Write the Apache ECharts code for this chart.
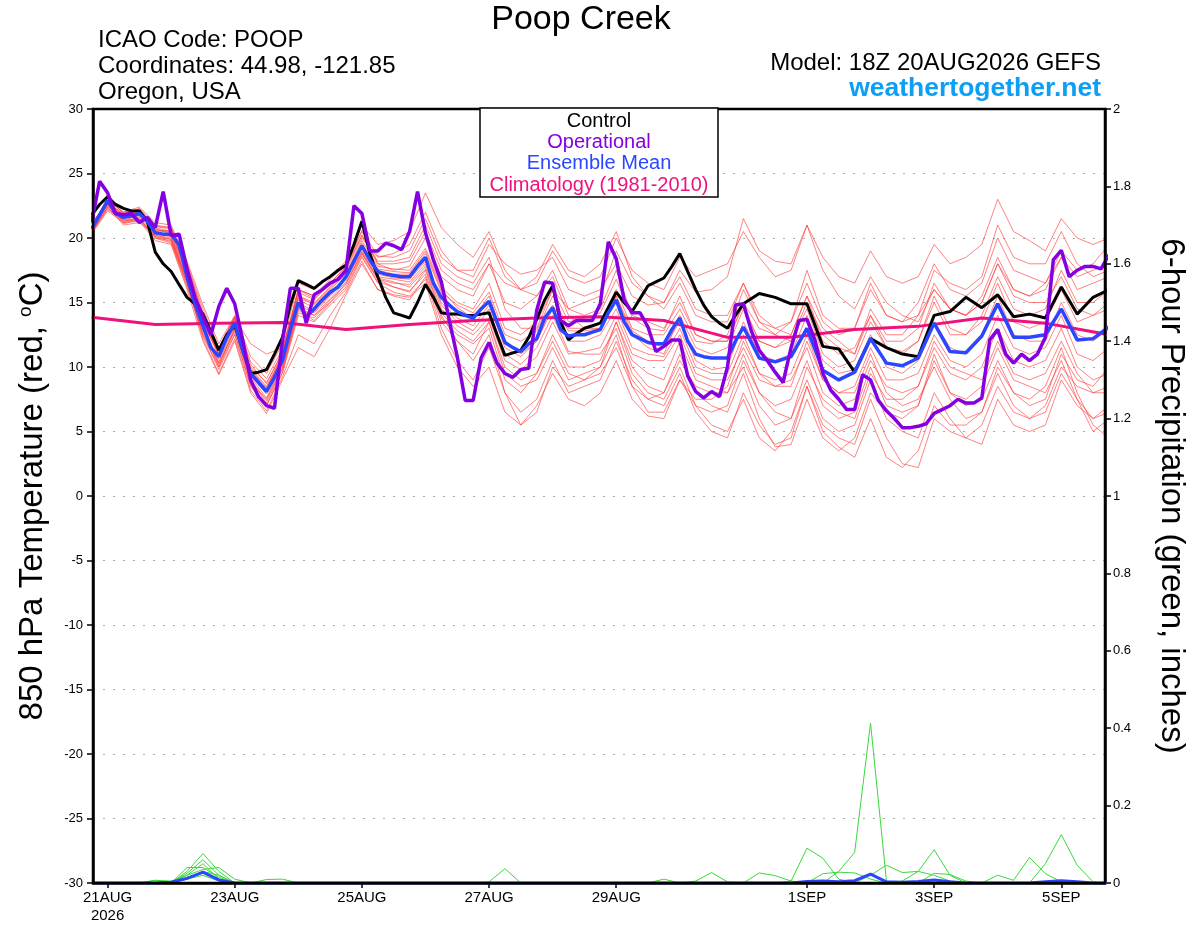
<!DOCTYPE html>
<html>
<head>
<meta charset="utf-8">
<title>Poop Creek GEFS meteogram</title>
<script src="https://cdn.jsdelivr.net/npm/echarts@6.0.0/dist/echarts.min.js"></script>
<style>
  html, body { margin: 0; padding: 0; background: #fff; }
  #chart { width: 1200px; height: 927px; }
</style>
</head>
<body>
<div id="chart"></div>
<script>
// time is in hours from 00Z 21AUG2026
function range(a, b, step) {
    var out = [];
    for (var h = a; h <= b; h += step) out.push(h);
    return out;
}
const hoursOper = range(-6, 378, 3);                       // GFS operational, 3-hourly
const hoursCtl = range(-6, 240, 3).concat(range(246, 378, 6)); // control + mean
const hoursMem = range(-6, 378, 6);                        // ensemble members
const hoursClim = range(-6, 378, 24);                      // climatology, once a day

const tickHours = [0, 48, 96, 144, 192, 264, 312, 360];
const tickLabels = ['21AUG\n2026', '23AUG', '25AUG', '27AUG', '29AUG', '1SEP', '3SEP', '5SEP'];

// 850 hPa temperature, deg C
const operational = [
    21.2, 24.4, 23.5, 21.9, 21.8, 21.9, 21.2, 21.6, 20.8, 23.6,
    20.2, 20.3, 17.6, 15.4, 13.9, 12.5, 14.7, 16.1, 14.9, 12.1,
    9.0, 7.7, 7.0, 6.8, 12.0, 16.1, 16.1, 13.4, 15.6, 16.0,
    16.5, 16.8, 17.5, 22.5, 21.9, 19.0, 19.0, 19.6, 19.4, 19.1,
    20.5, 23.6, 20.4, 18.3, 16.6, 13.6, 10.8, 7.4, 7.4, 10.7,
    11.9, 10.3, 9.5, 9.2, 9.8, 9.9, 14.4, 16.6, 16.5, 13.6,
    13.2, 13.6, 13.6, 13.6, 14.9, 19.7, 18.4, 15.2, 14.2, 14.2,
    13.1, 11.2, 11.6, 12.1, 12.1, 9.3, 8.1, 7.6, 8.1, 7.7,
    10.0, 14.8, 14.9, 12.8, 11.3, 10.5, 9.6, 8.8, 11.5, 13.6,
    13.7, 12.1, 9.5, 8.2, 7.5, 6.7, 6.7, 9.4, 9.0, 7.4,
    6.6, 6.0, 5.3, 5.3, 5.4, 5.6, 6.4, 6.7, 7.0, 7.5,
    7.2, 7.2, 7.6, 12.1, 12.9, 11.0, 10.3, 11.0, 10.5, 11.0,
    12.3, 18.3, 19.05, 17.0, 17.5, 17.8, 17.8, 17.6, 18.7
];
const control = [
    21.8, 22.6, 23.2, 22.6, 22.3, 22.1, 22.1, 21.3, 18.9, 18.0,
    17.4, 16.4, 15.4, 14.9, 14.1, 12.7, 11.3, 12.5, 13.2, 11.5,
    9.5, 9.6, 9.8, 11.0, 12.3, 14.8, 16.7, 16.4, 16.1, 16.6,
    17.0, 17.5, 17.9, 19.5, 21.3, 18.8, 17.0, 15.4, 14.2, 14.0,
    13.8, 15.0, 16.4, 15.4, 14.2, 14.1, 14.1, 14.0, 14.0, 14.1,
    14.2, 12.5, 10.9, 11.1, 11.3, 12.3, 13.7, 15.2, 16.3, 13.5,
    12.1, 12.6, 13.0, 13.2, 13.4, 14.6, 15.8, 15.0, 14.3, 15.3,
    16.3, 16.6, 16.9, 17.8, 18.8, 17.4, 16.0, 14.8, 13.9, 13.4,
    13.0, 14.0, 14.9,
    15.7, 15.4, 14.9, 14.9, 11.6, 11.4, 9.6, 12.2, 11.5, 11.0,
    10.8, 14.0, 14.3, 15.4, 14.6, 15.6, 13.9, 14.1, 13.8, 16.2,
    14.1, 15.4, 16.0
];
const ensMean = [
    20.7, 21.8, 22.9, 21.9, 21.6, 21.7, 21.9, 21.3, 20.4, 20.3,
    20.3, 19.5, 17.0, 14.9, 13.2, 11.5, 10.8, 12.3, 13.4, 11.3,
    9.5, 8.8, 8.1, 9.2, 10.5, 12.9, 15.0, 13.9, 14.5, 15.2,
    15.8, 16.2, 17.0, 18.2, 19.4, 18.3, 17.4, 17.2, 17.1, 17.0,
    17.0, 17.8, 18.5, 16.5, 15.4, 14.8, 14.3, 14.0, 13.8, 14.5,
    15.1, 13.5, 11.9, 11.5, 11.2, 11.8, 12.2, 13.8, 14.6, 12.9,
    12.4, 12.5, 12.5, 12.7, 12.9, 14.2, 15.2, 13.5, 12.5, 12.2,
    11.9, 11.8, 11.8, 12.9, 13.8, 12.0, 11.0, 10.8, 10.7, 10.7,
    10.7, 12.0, 13.1,
    10.7, 10.4, 10.8, 13.0, 9.75, 9.0, 9.6, 12.2, 10.3, 10.1,
    10.7, 13.4, 11.2, 11.1, 12.4, 14.9, 12.3, 12.3, 12.5, 14.5,
    12.1, 12.2, 13.1
];
const climatology = [13.85, 13.3, 13.4, 13.45, 12.9, 13.3, 13.6, 13.8, 13.9,
    13.6, 12.3, 12.3, 12.9, 13.15, 13.8, 13.4, 12.5];

// ensemble members, 6-hourly, four values per day (18Z, 00Z, 06Z, 12Z)
const memA = [21.0, 22.5, 21.8, 22.3, 21.0, 20.8, 18.0, 14.5, 11.5, 13.8, 11.8, 11.0,
    11.5, 15.5, 15.0, 16.2, 17.5, 20.0, 18.5, 18.8, 19.5, 22.0, 19.0, 17.5,
    17.0, 19.5, 18.0, 17.2, 17.5, 18.5, 16.0, 15.5, 16.0, 18.0, 15.5, 14.8,
    15.0, 17.5, 15.8, 16.0, 17.0, 21.5, 19.0, 18.2, 18.0, 21.0, 18.5, 17.0,
    16.5, 19.0, 17.0, 16.5, 17.0, 19.5, 18.0, 18.5, 19.5, 23.0, 20.5, 19.8,
    19.0, 21.5, 20.0, 19.5, 20.0];
const memB = [20.5, 22.8, 21.2, 21.5, 20.0, 19.8, 16.5, 12.5, 9.8, 12.5, 8.5, 7.0,
    9.5, 14.0, 13.5, 14.8, 16.0, 18.5, 16.5, 15.8, 15.5, 16.8, 13.0, 10.5,
    9.0, 11.5, 8.0, 6.5, 7.5, 10.5, 8.0, 8.5, 9.0, 12.0, 9.0, 7.5,
    7.0, 9.5, 6.5, 5.0, 4.5, 8.0, 5.5, 4.0, 4.5, 8.5, 5.5, 4.5,
    4.0, 7.5, 4.5, 2.5, 2.2, 6.0, 5.0, 4.5, 5.5, 8.5, 6.5, 6.0,
    6.5, 9.5, 7.5, 5.0, 6.0];
const memC = [20.8, 22.6, 21.5, 22.0, 20.8, 20.5, 17.8, 14.0, 11.2, 13.5, 10.0, 8.8,
    11.0, 16.0, 15.5, 16.5, 17.8, 20.5, 18.0, 18.0, 18.2, 20.5, 17.5, 16.5,
    16.0, 18.0, 15.0, 14.5, 15.5, 17.5, 14.5, 14.0, 14.5, 17.5, 14.0, 13.5,
    13.0, 15.0, 12.5, 12.0, 12.0, 15.0, 13.0, 12.5, 13.5, 17.5, 14.0, 13.0,
    13.0, 16.5, 14.0, 13.5, 14.0, 16.0, 14.5, 14.0, 15.5, 18.5, 16.0, 15.5,
    16.0, 18.5, 17.0, 17.5, 18.0];
const memD = [20.6, 22.4, 21.0, 21.2, 20.2, 20.0, 16.8, 13.0, 10.0, 13.0, 8.8, 7.5,
    10.0, 14.5, 14.0, 15.0, 16.5, 18.8, 16.8, 16.2, 15.8, 17.5, 14.0, 12.0,
    10.5, 12.5, 8.0, 5.5, 6.5, 10.0, 8.5, 9.0, 10.0, 13.5, 10.0, 8.5,
    8.0, 11.0, 8.0, 7.0, 6.5, 9.5, 6.0, 3.8, 4.0, 7.5, 4.5, 3.5,
    4.5, 8.0, 6.5, 6.0, 7.0, 10.5, 8.0, 7.5, 8.5, 11.5, 9.0, 8.5,
    8.0, 10.5, 7.5, 6.0, 7.0];
const memE = [20.9, 23.0, 22.0, 22.2, 20.6, 20.5, 17.5, 13.8, 11.0, 13.8, 9.8, 8.4,
    10.8, 15.5, 14.8, 16.0, 17.2, 19.8, 17.8, 17.6, 17.5, 19.2, 16.2, 15.0,
    14.5, 16.5, 13.0, 12.5, 13.5, 16.0, 13.5, 13.8, 14.2, 16.8, 13.8, 13.0,
    12.8, 15.5, 12.5, 12.0, 12.0, 14.8, 12.0, 11.5, 12.0, 14.5, 11.0, 10.0,
    10.5, 13.5, 11.5, 11.2, 12.0, 15.0, 12.5, 12.5, 13.5, 16.5, 13.5, 13.0,
    13.5, 16.0, 13.5, 14.0, 15.0];
const memF = [20.4, 22.2, 21.3, 21.6, 20.0, 19.6, 16.2, 12.6, 10.3, 12.8, 9.0, 7.2,
    9.8, 14.2, 13.8, 15.2, 16.4, 18.8, 16.8, 16.5, 16.4, 17.8, 14.5, 13.2,
    12.5, 13.8, 10.5, 9.8, 10.8, 13.5, 11.0, 11.2, 11.5, 14.0, 11.0, 10.5,
    10.5, 12.5, 9.5, 9.0, 9.0, 11.5, 9.0, 8.5, 9.0, 11.5, 8.0, 7.0,
    7.5, 10.5, 8.5, 8.0, 8.5, 11.5, 9.5, 9.0, 10.0, 13.0, 10.5, 10.0,
    10.5, 13.0, 10.0, 9.0, 9.5];
const memG = [21.2, 22.7, 21.6, 21.8, 20.5, 20.6, 17.2, 13.5, 11.0, 13.2, 9.6, 8.2,
    11.0, 15.8, 15.2, 16.5, 17.8, 20.2, 18.0, 17.5, 17.8, 20.0, 17.0, 16.0,
    15.5, 18.0, 16.5, 16.0, 16.5, 19.0, 17.0, 16.5, 17.0, 20.0, 17.5, 16.5,
    16.0, 18.5, 17.0, 17.5, 18.0, 20.5, 18.5, 17.0, 17.5, 21.0, 17.5, 15.5,
    14.5, 17.0, 15.0, 14.0, 13.5, 16.0, 14.5, 14.0, 15.0, 18.0, 16.0, 15.5,
    16.5, 19.0, 17.5, 18.0, 19.5];
const memH = [20.7, 22.6, 21.4, 21.7, 20.3, 20.1, 16.8, 12.8, 10.4, 13.1, 9.2, 7.6,
    10.2, 14.8, 14.2, 15.5, 16.8, 19.0, 17.0, 16.8, 16.6, 18.0, 14.8, 13.5,
    12.8, 14.5, 11.0, 10.2, 11.5, 14.0, 11.2, 11.0, 11.0, 13.0, 9.5, 8.0,
    7.5, 10.0, 7.0, 5.5, 5.0, 7.5, 4.5, 3.5, 5.0, 8.5, 5.0, 3.8,
    3.0, 6.0, 3.0, 2.2, 3.5, 7.0, 5.5, 5.5, 6.5, 10.0, 8.0, 7.0,
    7.5, 11.0, 9.0, 8.5, 10.0];
const memI = [21.0, 22.9, 22.0, 22.4, 21.2, 21.0, 18.2, 14.8, 11.8, 14.0, 10.8, 9.5,
    11.8, 16.5, 16.0, 17.0, 18.2, 21.0, 19.5, 19.8, 20.5, 23.5, 20.8, 19.5,
    18.5, 20.5, 17.5, 16.0, 15.5, 17.0, 14.0, 13.0, 13.0, 15.5, 12.5, 11.5,
    11.0, 14.0, 11.5, 11.0, 11.5, 14.5, 12.0, 11.5, 12.5, 15.5, 12.0, 11.0,
    11.5, 14.0, 11.5, 11.0, 12.0, 15.5, 13.0, 12.5, 14.0, 17.0, 14.5, 14.0,
    14.5, 17.5, 15.0, 15.0, 16.0];
const memJ = [20.5, 22.3, 21.4, 21.4, 20.1, 19.9, 16.5, 12.2, 9.5, 12.2, 8.2, 6.6,
    9.2, 12.5, 11.8, 14.0, 15.8, 18.2, 16.0, 15.5, 15.2, 17.0, 13.5, 12.0,
    11.0, 13.5, 9.5, 8.5, 9.0, 11.5, 9.0, 9.5, 10.0, 12.5, 8.5, 6.5,
    6.5, 9.0, 7.0, 6.5, 7.0, 10.5, 8.0, 7.0, 7.5, 10.5, 7.0, 6.0,
    6.5, 10.0, 7.0, 6.5, 7.0, 11.0, 8.0, 7.0, 7.5, 10.5, 8.0, 7.5,
    8.5, 11.5, 8.0, 5.5, 4.5];
const memK = [20.8, 23.1, 21.9, 22.1, 20.7, 20.3, 17.2, 13.4, 10.9, 13.6, 9.7, 8.3,
    10.6, 15.2, 14.6, 15.8, 17.0, 19.5, 17.5, 17.2, 17.2, 18.8, 15.8, 14.8,
    14.2, 15.8, 12.5, 12.0, 12.8, 15.5, 13.0, 13.0, 13.5, 16.0, 13.0, 12.5,
    12.5, 14.5, 12.0, 11.8, 12.5, 16.0, 13.5, 13.0, 13.5, 16.5, 13.5, 12.5,
    13.0, 16.0, 14.0, 13.5, 15.0, 18.0, 16.0, 15.5, 16.5, 20.0, 17.5, 17.0,
    16.5, 18.5, 16.0, 16.5, 17.0];
const memL = [20.6, 22.7, 21.5, 21.8, 20.4, 20.2, 17.0, 13.1, 10.6, 13.3, 9.3, 7.9,
    10.3, 15.0, 14.3, 15.6, 16.9, 19.2, 17.2, 16.9, 16.8, 18.2, 15.0, 13.8,
    13.2, 14.8, 11.5, 10.8, 12.0, 14.5, 12.0, 12.0, 12.5, 14.5, 11.5, 11.0,
    10.8, 13.0, 10.0, 9.5, 9.5, 12.5, 9.5, 9.0, 9.5, 12.5, 9.0, 8.0,
    8.5, 11.5, 9.0, 9.0, 9.5, 12.5, 10.5, 10.0, 11.0, 14.0, 11.5, 11.0,
    11.5, 14.0, 11.0, 10.5, 11.5];
const memM = [21.1, 22.8, 21.7, 22.0, 20.9, 20.7, 17.6, 13.9, 11.3, 13.9, 10.2, 8.7,
    11.2, 16.0, 15.3, 16.4, 17.6, 20.2, 18.2, 18.2, 18.5, 21.0, 18.0, 17.0,
    16.5, 18.5, 14.5, 13.0, 13.0, 16.0, 14.5, 15.0, 15.5, 19.0, 16.5, 15.5,
    15.0, 17.0, 14.5, 14.0, 14.0, 16.5, 14.0, 13.0, 12.5, 15.5, 13.0, 12.0,
    11.0, 14.5, 12.5, 12.5, 14.0, 17.5, 16.5, 16.0, 17.0, 21.0, 18.5, 18.0,
    18.0, 20.5, 18.0, 17.0, 17.5];
const memN = [20.3, 22.1, 21.2, 21.3, 19.8, 19.5, 16.0, 12.0, 9.4, 12.0, 8.0, 6.4,
    9.0, 11.5, 10.8, 13.0, 15.6, 18.0, 16.0, 15.6, 15.4, 16.5, 12.5, 10.0,
    8.5, 10.0, 6.5, 5.5, 7.0, 9.5, 7.5, 7.0, 8.0, 10.5, 7.5, 6.2,
    6.0, 9.0, 7.5, 7.5, 8.5, 12.0, 9.5, 8.5, 8.5, 12.0, 9.0, 8.0,
    8.0, 11.0, 8.0, 7.0, 7.5, 10.0, 7.5, 6.0, 6.5, 9.5, 7.0, 6.0,
    7.0, 10.0, 8.5, 8.0, 8.5];
const memO = [20.9, 22.8, 21.8, 22.1, 20.7, 20.4, 17.4, 13.6, 11.0, 13.7, 9.9, 8.5,
    10.9, 15.3, 14.9, 16.1, 17.3, 19.6, 17.6, 17.4, 17.3, 19.0, 16.0, 14.6,
    13.8, 15.5, 12.0, 11.0, 12.0, 14.8, 12.8, 12.8, 13.0, 15.5, 12.8, 12.0,
    11.5, 13.5, 10.5, 9.8, 10.0, 13.5, 11.0, 10.5, 11.0, 14.0, 10.5, 9.5,
    9.8, 12.5, 10.0, 9.5, 10.5, 13.5, 11.5, 11.0, 12.5, 15.5, 12.5, 12.0,
    12.0, 15.0, 12.5, 12.0, 13.0];
const memP = [20.5, 22.5, 21.3, 21.5, 20.2, 19.9, 16.7, 12.9, 10.2, 12.9, 9.0, 7.4,
    9.9, 14.6, 14.0, 15.3, 16.6, 18.9, 16.9, 16.6, 16.2, 17.6, 14.2, 12.8,
    12.0, 13.5, 10.0, 9.0, 9.5, 12.0, 9.5, 9.0, 9.5, 11.5, 8.5, 7.5,
    8.0, 10.5, 8.5, 8.0, 8.0, 11.0, 8.0, 6.5, 6.0, 9.0, 6.0, 5.0,
    5.5, 9.0, 6.0, 5.0, 4.5, 8.0, 6.0, 4.5, 4.0, 7.5, 5.5, 5.0,
    5.5, 9.0, 7.0, 6.0, 6.5];
const memQ = [21.0, 22.7, 21.9, 22.2, 20.9, 20.8, 17.9, 14.2, 11.5, 13.9, 10.4, 9.1,
    11.4, 16.0, 15.5, 16.8, 17.9, 20.6, 18.6, 18.5, 19.0, 21.5, 18.5, 17.5,
    17.5, 20.0, 17.0, 16.0, 17.0, 19.5, 17.5, 17.0, 18.0, 20.5, 17.0, 15.5,
    14.5, 16.5, 14.0, 13.5, 13.5, 16.5, 13.5, 12.5, 12.0, 15.0, 12.5, 11.5,
    11.0, 14.0, 12.0, 12.0, 13.0, 16.5, 14.5, 14.0, 15.0, 18.0, 15.5, 15.0,
    15.0, 17.0, 14.5, 14.0, 14.5];
const memR = [20.4, 22.4, 21.1, 21.4, 20.1, 19.7, 16.4, 12.4, 10.0, 12.6, 8.6, 7.0,
    9.6, 14.4, 13.6, 15.0, 16.2, 18.6, 16.6, 16.2, 15.9, 17.2, 13.8, 12.5,
    11.8, 13.0, 9.0, 8.0, 9.5, 12.5, 10.0, 10.0, 10.5, 13.5, 10.5, 9.5,
    9.0, 12.0, 9.0, 8.5, 8.0, 10.0, 7.0, 5.5, 6.0, 10.0, 7.5, 6.5,
    6.0, 9.5, 7.5, 7.5, 8.5, 12.0, 10.0, 9.5, 9.0, 12.0, 9.5, 9.0,
    9.5, 12.0, 9.5, 8.0, 8.0];
const tempMembers = [memA, memB, memC, memD, memE, memF, memG, memH, memI,
    memJ, memK, memL, memM, memN, memO, memP, memQ, memR];

// 6-hour precipitation, inches (6-hourly, 13 values per row)
const precip1 = [0, 0, 0, 0, 0, 0, 0.02, 0.05, 0.01, 0, 0, 0, 0,
    0, 0, 0, 0, 0, 0, 0, 0, 0, 0, 0, 0, 0,
    0, 0, 0, 0, 0, 0, 0, 0, 0, 0, 0, 0, 0,
    0, 0, 0, 0, 0, 0, 0, 0, 0.03, 0.079, 0.413, 0.005, 0,
    0, 0, 0, 0, 0, 0, 0, 0, 0, 0, 0, 0, 0];
const precip2 = [0, 0, 0, 0, 0, 0, 0.03, 0.076, 0.03, 0, 0, 0, 0,
    0, 0, 0, 0, 0, 0, 0, 0, 0, 0, 0, 0, 0,
    0, 0, 0, 0, 0, 0, 0, 0, 0, 0, 0, 0, 0,
    0, 0, 0, 0, 0, 0.005, 0.09, 0.064, 0.01, 0, 0, 0, 0,
    0, 0, 0, 0, 0, 0, 0, 0, 0, 0, 0, 0, 0];
const precip3 = [0, 0, 0, 0, 0, 0, 0.025, 0.06, 0.02, 0, 0, 0, 0,
    0, 0, 0, 0, 0, 0, 0, 0, 0, 0, 0, 0, 0,
    0, 0, 0, 0, 0, 0, 0, 0, 0, 0, 0, 0, 0,
    0, 0, 0, 0, 0, 0, 0, 0, 0, 0, 0, 0, 0.005,
    0.03, 0.086, 0.02, 0, 0, 0, 0, 0, 0, 0, 0, 0, 0];
const precip4 = [0, 0, 0, 0, 0, 0, 0.04, 0.04, 0.015, 0, 0, 0, 0,
    0, 0, 0, 0, 0, 0, 0, 0, 0, 0, 0, 0, 0,
    0, 0, 0, 0, 0, 0, 0, 0, 0, 0, 0, 0, 0.005,
    0.027, 0.003, 0, 0, 0, 0, 0, 0, 0, 0, 0, 0, 0,
    0, 0, 0, 0, 0, 0, 0, 0, 0.05, 0.125, 0.046, 0.003, 0];
const precip5 = [0, 0, 0, 0, 0, 0, 0.01, 0.03, 0.02, 0, 0, 0, 0,
    0, 0, 0, 0, 0, 0, 0, 0, 0, 0, 0, 0, 0.003,
    0.037, 0, 0, 0, 0, 0, 0, 0, 0, 0, 0, 0, 0,
    0, 0, 0, 0, 0, 0, 0, 0, 0, 0, 0, 0, 0,
    0, 0, 0, 0, 0, 0.02, 0.007, 0.066, 0.024, 0.003, 0, 0, 0];
const precip6 = [0, 0, 0, 0, 0.007, 0.005, 0.02, 0.035, 0.04, 0.01, 0, 0, 0,
    0, 0, 0, 0, 0, 0, 0, 0, 0, 0, 0, 0, 0,
    0, 0, 0, 0, 0, 0, 0, 0, 0, 0, 0.01, 0, 0,
    0, 0, 0, 0, 0, 0, 0, 0, 0, 0, 0.02, 0.046, 0.027,
    0.03, 0.02, 0.005, 0, 0, 0, 0, 0, 0, 0, 0, 0, 0];
const precip7 = [0, 0, 0, 0, 0, 0, 0.01, 0.02, 0.005, 0, 0, 0.009, 0.01,
    0, 0, 0, 0, 0, 0, 0, 0, 0, 0, 0, 0, 0,
    0, 0, 0, 0, 0, 0, 0, 0, 0, 0, 0, 0, 0,
    0, 0, 0, 0, 0, 0, 0, 0.024, 0.028, 0.026, 0.01, 0, 0,
    0, 0, 0, 0, 0, 0, 0, 0, 0, 0, 0, 0, 0];
const precip8 = [0, 0, 0, 0, 0.007, 0, 0.015, 0.025, 0.01, 0, 0, 0, 0,
    0, 0, 0, 0, 0, 0, 0, 0, 0, 0, 0, 0, 0,
    0, 0, 0, 0, 0, 0, 0, 0, 0, 0, 0, 0, 0,
    0, 0, 0, 0.026, 0.019, 0.005, 0, 0, 0, 0, 0, 0, 0,
    0, 0.025, 0.022, 0.005, 0, 0, 0, 0, 0, 0, 0, 0, 0];
const precipMean = [0, 0, 0, 0, 0, 0.002, 0.012, 0.028, 0.008, 0, 0, 0, 0,
    0, 0, 0, 0, 0, 0, 0, 0, 0, 0, 0, 0, 0,
    0, 0, 0, 0, 0, 0, 0, 0, 0, 0, 0, 0, 0,
    0, 0, 0, 0, 0, 0, 0.004, 0.005, 0.003, 0.006, 0.023, 0.003, 0.002,
    0.004, 0.008, 0.003, 0, 0, 0, 0, 0, 0.003, 0.006, 0.003, 0, 0];
const precipMembers = [precip1, precip2, precip3, precip4, precip5, precip6, precip7, precip8];

function pair(hours, vals) {
    return hours.map(function (h, i) { return [h, vals[i]]; });
}

var FONT = 'Liberation Sans';
var chartDom = document.getElementById('chart');
var myChart = echarts.init(chartDom);
var option;

function lineSeries(data, axis, color, width, z, opacity) {
    return {
        type: 'line',
        data: data,
        yAxisIndex: axis,
        symbol: 'none',
        silent: true,
        z: z,
        lineStyle: { color: color, width: width, opacity: opacity === undefined ? 1 : opacity }
    };
}

var series = [];
tempMembers.forEach(function (m) {
    series.push(lineSeries(pair(hoursMem, m), 0, '#ff3c3c', 0.8, 2, 0.8));
});
precipMembers.forEach(function (p) {
    series.push(lineSeries(pair(hoursMem, p), 1, '#3ad83a', 1, 2));
});
series.push(lineSeries(pair(hoursMem, precipMean), 1, '#2a46ff', 3, 3));
series.push(lineSeries(pair(hoursClim, climatology), 0, '#f0127c', 3, 3));
series.push(lineSeries(pair(hoursCtl, control), 0, '#000000', 3, 4));
series.push(lineSeries(pair(hoursCtl, ensMean), 0, '#2a46ff', 3.5, 5));
series.push(lineSeries(pair(hoursOper, operational), 0, '#8400e0', 3.5, 6));

function headerText(text, x, y, size, color, align, bold) {
    return {
        type: 'text', x: x, y: y, z: 100,
        style: {
            text: text, font: (bold ? 'bold ' : '') + size + 'px ' + FONT, fill: color,
            textAlign: align, textVerticalAlign: 'middle'
        }
    };
}

option = {
    animation: false,
    backgroundColor: '#ffffff',
    textStyle: { fontFamily: FONT },
    grid: {
        left: 93, right: 95, top: 109, bottom: 44,
        show: false
    },
    xAxis: {
        type: 'value',
        min: -5.5,
        max: 376.5,
        axisLine: { show: true, onZero: false, lineStyle: { color: '#000', width: 2.5 } },
        axisTick: { show: true, customValues: tickHours, length: 5, lineStyle: { color: '#000', width: 1.5 } },
        axisLabel: {
            customValues: tickHours,
            color: '#000', fontSize: 15, fontFamily: FONT, margin: 6, lineHeight: 18,
            formatter: function (v) {
                var i = tickHours.indexOf(v);
                return i < 0 ? '' : tickLabels[i];
            }
        },
        splitLine: { show: false }
    },
    yAxis: [{
        type: 'value',
        position: 'left',
        min: -30, max: 30, interval: 5,
        name: '850 hPa Temperature (red, {sup|o}C)',
        nameLocation: 'middle',
        nameGap: 44,
        nameTextStyle: {
            color: '#000', fontSize: 33, fontFamily: FONT,
            rich: { sup: { fontSize: 19, fontFamily: FONT, color: '#000', verticalAlign: 'top', lineHeight: 33 } }
        },
        axisLine: { show: true, onZero: false, lineStyle: { color: '#000', width: 2.5 } },
        axisTick: { show: true, length: 6, lineStyle: { color: '#000', width: 1.5 } },
        axisLabel: { color: '#000', fontSize: 13, fontFamily: FONT, margin: 10 },
        splitLine: { show: true, lineStyle: { color: '#a8a8a8', width: 1.2, type: [2, 8] } }
    }, {
        type: 'value',
        position: 'right',
        min: 0, max: 2, interval: 0.2,
        name: '6-hour Precipitation (green, inches)',
        nameLocation: 'middle',
        nameRotate: -90,
        nameGap: 50,
        nameTextStyle: { color: '#000', fontSize: 33, fontFamily: FONT },
        axisLine: { show: true, onZero: false, lineStyle: { color: '#000', width: 2.5 } },
        axisTick: { show: true, length: 6, lineStyle: { color: '#000', width: 1.5 } },
        axisLabel: {
            color: '#000', fontSize: 13, fontFamily: FONT, margin: 8,
            formatter: function (v) { return String(+v.toFixed(1)); }
        },
        splitLine: { show: false }
    }],
    graphic: [
        // solid frame round the plot, drawn over the dotted grid lines
        { type: 'rect', z: 99, silent: true,
          shape: { x: 93, y: 109, width: 1012, height: 774 },
          style: { fill: 'none', stroke: '#000', lineWidth: 2.5 } },
        headerText('Poop Creek', 581, 20, 34, '#000', 'center'),
        headerText('ICAO Code: POOP', 98, 40, 24, '#000', 'left'),
        headerText('Coordinates: 44.98, -121.85', 98, 66, 24, '#000', 'left'),
        headerText('Oregon, USA', 98, 92, 24, '#000', 'left'),
        headerText('Model: 18Z 20AUG2026 GEFS', 1101, 63, 24, '#000', 'right'),
        headerText('weathertogether.net', 1101, 89, 26.5, '#0d9ef5', 'right', true),
        { type: 'rect', z: 100,
          shape: { x: 480, y: 108, width: 238, height: 89 },
          style: { fill: '#fff', stroke: '#000', lineWidth: 1.5 } },
        headerText('Control', 599, 121, 20, '#000', 'center'),
        headerText('Operational', 599, 142, 20, '#8400e0', 'center'),
        headerText('Ensemble Mean', 599, 163, 20, '#2a46ff', 'center'),
        headerText('Climatology (1981-2010)', 599, 185, 20, '#f0127c', 'center')
    ],
    series: series
};

myChart.setOption(option);
</script>
</body>
</html>
